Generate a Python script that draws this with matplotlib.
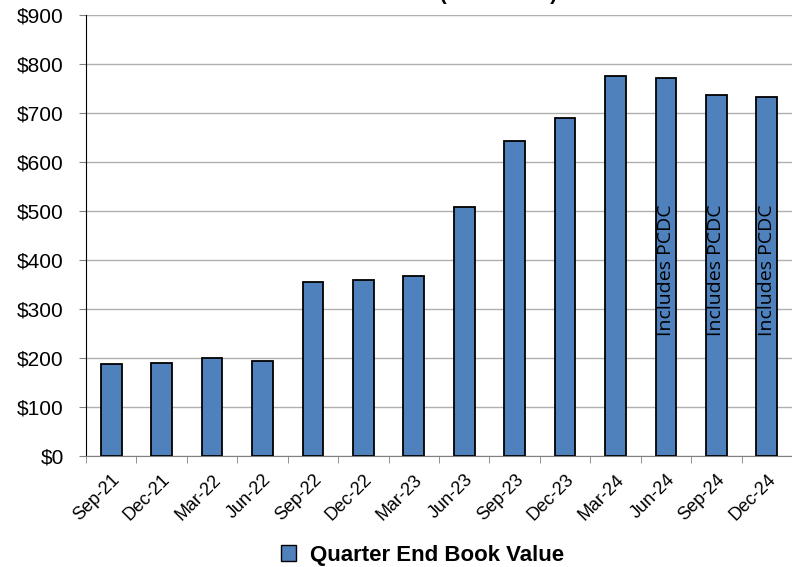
import numpy as np
import matplotlib
matplotlib.use("Agg")
import matplotlib.pyplot as plt
from matplotlib.patches import Patch

quarters = ['Sep-21', 'Dec-21', 'Mar-22', 'Jun-22', 'Sep-22', 'Dec-22', 'Mar-23',
            'Jun-23', 'Sep-23', 'Dec-23', 'Mar-24', 'Jun-24', 'Sep-24', 'Dec-24']
book_value = [187, 189, 200, 193, 355, 359, 367, 508, 643, 690, 776, 771, 737, 732]
note_quarters = ['Jun-24', 'Sep-24', 'Dec-24']
note_text = 'Includes PCDC'
yticks = list(range(0, 1000, 100))

plt.rcParams['font.family'] = ['Liberation Sans', 'DejaVu Sans']

fig = plt.figure(figsize=(7.92, 5.67), dpi=100)
ax = fig.add_axes([0.1086, 0.1958, 0.8914, 0.7777])

x = np.arange(len(quarters))
ax.bar(x, book_value, width=0.41, color='#4f81bd', edgecolor='black', linewidth=1.3, zorder=3)

for q in note_quarters:
    i = quarters.index(q)
    ax.text(i, 245, note_text, rotation=90, ha='center', va='bottom',
            fontsize=14, family=['Open Sans', 'DejaVu Sans'], zorder=4)

ax.set_xlim(-0.5, len(quarters) - 0.5)
ax.set_ylim(0, 900)
ax.set_yticks(yticks)
ax.set_yticklabels(['$%d' % v for v in yticks], fontsize=15)
ax.yaxis.grid(True, color='#b0b0b0', linewidth=1, zorder=0)

ax.set_xticks(x)
ax.set_xticklabels(quarters, rotation=45, ha='right', rotation_mode='anchor', fontsize=13)
ax.tick_params(axis='x', length=0, pad=11)
ax.set_xticks(np.arange(-0.5, len(quarters)), minor=True)
ax.tick_params(axis='x', which='minor', length=5, color='#808080')
ax.tick_params(axis='y', length=5, color='#808080', pad=11)

for s in ['top', 'right']:
    ax.spines[s].set_visible(False)
ax.spines['left'].set_color('black')
ax.spines['bottom'].set_color('#808080')
ax.axhline(900, color='#909090', linewidth=1.5, zorder=1)

# title sits above the picture, only the bottoms of the brackets show
fig.text(0.703, 1.0, 'Book Value (in millions)', ha='right', va='baseline',
         fontsize=15, fontweight='bold')

fig.legend(handles=[Patch(facecolor='#4f81bd', edgecolor='black')],
           labels=['Quarter End Book Value'], loc='center', bbox_to_anchor=(0.533, 0.021),
           frameon=False, handlelength=0.7, handleheight=0.7, handletextpad=0.6,
           prop={'weight': 'bold', 'size': 16})

fig.savefig('out.png', dpi=100)
